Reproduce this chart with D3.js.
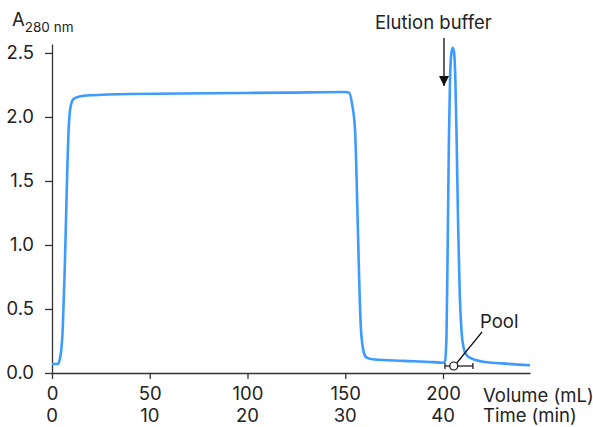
<!DOCTYPE html>
<html lang="en">
<head>
  <meta charset="UTF-8">
  <title>A280 chromatogram</title>
  <style>
    body { margin: 0; background: #fff; }
    svg text { font-family: Inter, "Noto Sans", sans-serif; fill: #222; }
  </style>
</head>
<body>
  <svg id="chart" width="593" height="427"></svg>

  <script src="https://cdn.jsdelivr.net/npm/d3@7"></script>
  <script>
    // volume (mL) / absorbance
    const volume = [0, 3, 4.5, 5.5, 6.5, 7.5, 8.5, 9.5, 11, 14, 20, 40, 80, 120, 150,
      152, 153.5, 155, 156, 157, 158, 159.5, 161, 165, 180, 195, 200,
      201, 201.8, 202.4, 203, 203.6, 204.3, 205, 205.7, 206.3, 207, 207.8, 208.6,
      209.5, 210.5, 212, 215, 220, 230, 244.5];
    const absorbance = [0.07, 0.07, 0.15, 0.35, 0.8, 1.4, 1.9, 2.08, 2.14, 2.16, 2.17, 2.18, 2.185, 2.19, 2.195,
      2.19, 2.1, 1.9, 1.4, 0.8, 0.35, 0.16, 0.12, 0.105, 0.095, 0.085, 0.08,
      0.09, 0.3, 1.0, 1.8, 2.3, 2.5, 2.54, 2.5, 2.3, 1.8, 1.1, 0.6,
      0.32, 0.2, 0.14, 0.11, 0.09, 0.075, 0.06];

    const yTicks = [0, 0.5, 1.0, 1.5, 2.0, 2.5];
    const volumeTicks = [0, 50, 100, 150, 200];
    const timeTicks = [0, 10, 20, 30, 40];
    const mlPerMin = 5;

    const elutionAt = 200.5;   // arrow position (mL)
    const pool = [201, 215.3]; // pooled fraction (mL)

    const fs = '18.5px';
    const svg = d3.select('#chart');
    const x = d3.scaleLinear().domain([0, 244.5]).range([52, 530]);
    const y = d3.scaleLinear().domain([0, 2.57]).range([373, 44]);

    // y axis
    const yAxis = svg.append('g')
      .attr('transform', `translate(${x(0)},0)`)
      .call(d3.axisLeft(y).tickValues(yTicks).tickFormat(d3.format('.1f')).tickSize(7).tickSizeOuter(0));
    yAxis.selectAll('text').attr('x', -18);

    // x axis (volume)
    const xAxis = svg.append('g')
      .attr('transform', `translate(0,${y(0)})`)
      .call(d3.axisBottom(x).tickValues(volumeTicks).tickSize(6).tickSizeOuter(0));
    xAxis.selectAll('text').attr('y', 14);

    [yAxis, xAxis].forEach(g => {
      g.select('.domain').attr('stroke', '#333').attr('stroke-width', 1.3);
      g.selectAll('.tick line').attr('stroke', '#333').attr('stroke-width', 1.3);
      g.selectAll('text').style('fill', '#222').style('font-size', fs)
        .style('font-family', 'Inter, "Noto Sans", sans-serif');
    });

    // time row
    svg.append('g').selectAll('text')
      .data(timeTicks)
      .enter().append('text')
      .attr('x', d => x(d * mlPerMin))
      .attr('y', 422)
      .attr('text-anchor', 'middle')
      .style('font-size', fs)
      .text(d => d);

    svg.append('text').attr('x', 483).attr('y', 402).style('font-size', fs).text('Volume (mL)');
    svg.append('text').attr('x', 483).attr('y', 422).style('font-size', fs).text('Time (min)');

    // y label
    const yLabel = svg.append('text').attr('x', 12).attr('y', 26).style('font-size', fs);
    yLabel.append('tspan').text('A');
    yLabel.append('tspan').attr('dy', 6).style('font-size', '13.5px').text('280 nm');

    // trace
    const pts = volume.map((v, i) => [v, absorbance[i]]);
    const line = d3.line()
      .x(d => x(d[0]))
      .y(d => y(d[1]))
      .curve(d3.curveMonotoneX);

    svg.append('path')
      .datum(pts)
      .attr('fill', 'none')
      .attr('stroke', '#3d9bff')
      .attr('stroke-width', 2.6)
      .attr('stroke-linejoin', 'round')
      .attr('d', line);

    // elution buffer arrow
    svg.append('defs').append('marker')
      .attr('id', 'arrow')
      .attr('viewBox', '0 0 10 10')
      .attr('refX', 10).attr('refY', 5)
      .attr('markerWidth', 10).attr('markerHeight', 10)
      .attr('markerUnits', 'userSpaceOnUse')
      .attr('orient', 'auto')
      .append('path').attr('d', 'M0,0 L10,5 L0,10 z').attr('fill', '#111');

    svg.append('line')
      .attr('x1', x(elutionAt)).attr('x2', x(elutionAt))
      .attr('y1', 38).attr('y2', 86)
      .attr('stroke', '#111').attr('stroke-width', 1.3)
      .attr('marker-end', 'url(#arrow)');

    svg.append('text').attr('x', 375).attr('y', 29).style('font-size', fs).text('Elution buffer');

    // pool bracket
    const poolY = 366;
    const pg = svg.append('g').attr('stroke', '#111').attr('stroke-width', 1.2).attr('fill', 'none');
    pg.append('line').attr('x1', x(pool[0])).attr('x2', x(pool[1])).attr('y1', poolY).attr('y2', poolY);
    pg.append('line').attr('x1', x(pool[0])).attr('x2', x(pool[0])).attr('y1', poolY - 3).attr('y2', poolY + 3);
    pg.append('line').attr('x1', x(pool[1])).attr('x2', x(pool[1])).attr('y1', poolY - 3).attr('y2', poolY + 3);
    const cx = x(205.5);
    pg.append('circle').attr('cx', cx).attr('cy', poolY).attr('r', 4).attr('fill', '#fff');
    pg.append('line').attr('x1', cx + 3).attr('y1', poolY - 3).attr('x2', 482).attr('y2', 332);

    svg.append('text').attr('x', 480).attr('y', 328).style('font-size', fs).text('Pool');
  </script>
</body>
</html>
